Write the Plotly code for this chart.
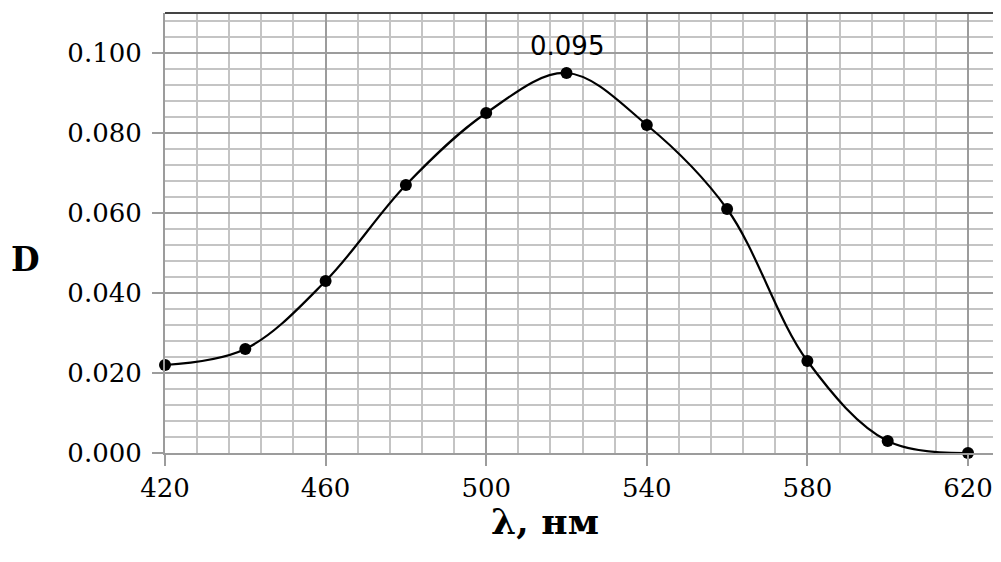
import plotly.graph_objects as go

wavelength = [420, 440, 460, 480, 500, 520, 540, 560, 580, 600, 620]
density = [0.022, 0.026, 0.043, 0.067, 0.085, 0.095, 0.082, 0.061, 0.023, 0.003, 0.000]
x_ticks = [420, 460, 500, 540, 580, 620]
y_ticks = [0.0, 0.02, 0.04, 0.06, 0.08, 0.10]
y_ticklabels = ["0.000", "0.020", "0.040", "0.060", "0.080", "0.100"]
peak_label = "0.095"

MAJ = "#9c9c9c"
MIN = "#c4c4c4"
SERIF = "DejaVu Serif"

# page body adds an 8px offset; plot area target: x 165..1001, y 13..453 (window coords)
OFF = 8
W, H = 1001 - OFF, 562 - OFF
L, T = 165 - OFF, 13 - OFF
B = H - (453 - OFF)
PW = W - L
PH = H - T - B

fig = go.Figure()
fig.add_trace(go.Scatter(
    x=wavelength, y=density, mode="lines+markers",
    line=dict(color="black", width=2.2, shape="spline", smoothing=1),
    marker=dict(color="black", size=12),
    cliponaxis=False, showlegend=False,
))

fig.add_annotation(x=wavelength[5], y=density[5], text=peak_label, showarrow=False,
                   yshift=27, font=dict(family="DejaVu Sans", size=26, color="black"))
fig.add_annotation(xref="paper", yref="paper", x=(545 - 165) / PW, y=-(521 - 453) / PH,
                   text="<b>λ, нм</b>", showarrow=False, yanchor="middle",
                   font=dict(family=SERIF, size=36, color="black"))
fig.add_annotation(xref="paper", yref="paper", x=-(165 - 25) / PW, y=(453 - 260) / PH,
                   text="<b>D</b>", showarrow=False, yanchor="middle", xanchor="center",
                   font=dict(family=SERIF, size=33, color="black"))
fig.add_shape(type="line", xref="paper", yref="paper", x0=0, x1=1, y0=1, y1=1,
              line=dict(color="#444444", width=2))

fig.update_layout(
    width=W, height=H,
    margin=dict(l=L, r=0, t=T, b=B),
    plot_bgcolor="white", paper_bgcolor="white",
    xaxis=dict(range=[420, 420 + PW / 4.015], tickvals=x_ticks, ticktext=[str(v) for v in x_ticks],
               showgrid=True, gridcolor=MAJ, gridwidth=1.5,
               minor=dict(dtick=8, tick0=420, showgrid=True, gridcolor=MIN, gridwidth=1.5),
               ticks="outside", ticklen=11, tickcolor=MAJ, tickwidth=1.5,
               showline=True, linecolor=MAJ, linewidth=2, zeroline=False,
               tickfont=dict(family=SERIF, size=26, color="black")),
    yaxis=dict(range=[0, 0.11], tickvals=y_ticks, ticktext=y_ticklabels,
               showgrid=True, gridcolor=MAJ, gridwidth=1.5,
               minor=dict(dtick=0.004, tick0=0, showgrid=True, gridcolor=MIN, gridwidth=1.5),
               ticks="outside", ticklen=11, tickcolor=MAJ, tickwidth=1.5,
               ticklabelstandoff=5,
               showline=True, linecolor=MAJ, linewidth=2, zeroline=False,
               tickfont=dict(family=SERIF, size=26, color="black")),
)

fig.write_html("out.html")
